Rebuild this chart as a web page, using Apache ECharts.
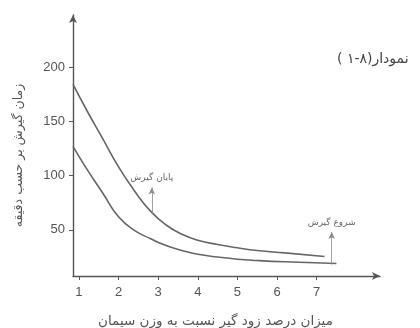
<!DOCTYPE html>
<html>
<head>
<meta charset="utf-8">
<script src="https://cdn.jsdelivr.net/npm/echarts@6/dist/echarts.min.js"></script>
<style>
  html, body { margin: 0; padding: 0; background: #fff; }
  #chart { width: 420px; height: 328px; }
</style>
</head>
<body>
<div id="chart"></div>
<script>
// curves
const upperX = [0.85, 1.2, 1.6, 2.0, 2.4, 2.8, 3.2, 3.6, 4.0, 4.5, 5.0, 5.5, 6.2, 7.2];
const upperY = [184, 160, 134, 108, 86, 67.5, 54.5, 46, 40.5, 36.5, 33.5, 31, 28.8, 25.5];
const lowerX = [0.85, 1.2, 1.6, 2.0, 2.4, 2.8, 3.2, 3.6, 4.0, 4.5, 5.0, 5.5, 6.2, 7.5];
const lowerY = [127, 106, 84, 62, 49.5, 42, 35.5, 31, 27.5, 25, 23, 21.8, 20.6, 19];
const xTicks = [1, 2, 3, 4, 5, 6, 7];
const yTicks = [50, 100, 150, 200];
// annotation arrows
const noteLabels = ['پایان گیرش', 'شروع گیرش'];
const noteX = [2.84, 7.38];
const noteFrom = [64, 18];
const noteTo = [89, 48];

const fa = "'DejaVu Sans', sans-serif";
const num = "'Liberation Sans', Arial, sans-serif";
const ink = '#555';

const pairs = (xs, ys) => xs.map((x, i) => [x, ys[i]]);
const arrow = i => [
  {coord: [noteX[i], noteFrom[i]]},
  {coord: [noteX[i], noteTo[i]], label: {formatter: noteLabels[i]}}
];
const curve = (xs, ys, i) => ({
  type: 'line', data: pairs(xs, ys), smooth: 0.5, symbol: 'none',
  lineStyle: {color: '#666', width: 1.6},
  markLine: {
    silent: true, symbol: ['none', 'arrow'], symbolSize: [5, 7],
    lineStyle: {color: '#8a8a8a', width: 0.8, type: 'solid'},
    label: {position: 'end', distance: 5, fontFamily: fa, fontSize: 9, color: '#666'},
    data: [arrow(i)]
  }
});

const chart = echarts.init(document.getElementById('chart'));
chart.setOption({
  animation: false,
  grid: {left: 73, right: 40, top: 15, bottom: 52, containLabel: false, outerBoundsMode: 'none'},
  xAxis: {
    type: 'value', min: 0.85, max: 8.6,
    name: 'میزان درصد زود گیر نسبت به وزن سیمان',
    nameLocation: 'middle', nameGap: 38,
    nameTextStyle: {fontFamily: fa, fontSize: 13.5, color: ink, padding: [0, 22, 0, 0]},
    axisLine: {symbol: ['none', 'arrow'], symbolSize: [6, 8], lineStyle: {color: ink, width: 1.4}},
    axisTick: {customValues: xTicks, length: 4, lineStyle: {color: ink}},
    axisLabel: {customValues: xTicks, fontFamily: num, fontSize: 13, color: ink, margin: 10},
    splitLine: {show: false}
  },
  yAxis: {
    type: 'value', min: 7.5, max: 248,
    name: 'زمان گیرش بر حسب دقیقه',
    nameLocation: 'middle', nameGap: 48,
    nameTextStyle: {fontFamily: fa, fontSize: 12.5, color: ink, padding: [0, 20, 0, 0]},
    axisLine: {show: true, symbol: ['none', 'arrow'], symbolSize: [6, 8], lineStyle: {color: ink, width: 1.4}},
    axisTick: {show: true, customValues: yTicks, length: 4, lineStyle: {color: ink}},
    axisLabel: {customValues: yTicks, fontFamily: num, fontSize: 13, color: ink, margin: 8},
    splitLine: {show: false}
  },
  graphic: [
    {type: 'text', left: 337, top: 52,
     style: {text: '( ۱-۸)نمودار', font: '14px ' + fa, fill: '#444'}}
  ],
  series: [curve(upperX, upperY, 0), curve(lowerX, lowerY, 1)]
});
</script>
</body>
</html>
